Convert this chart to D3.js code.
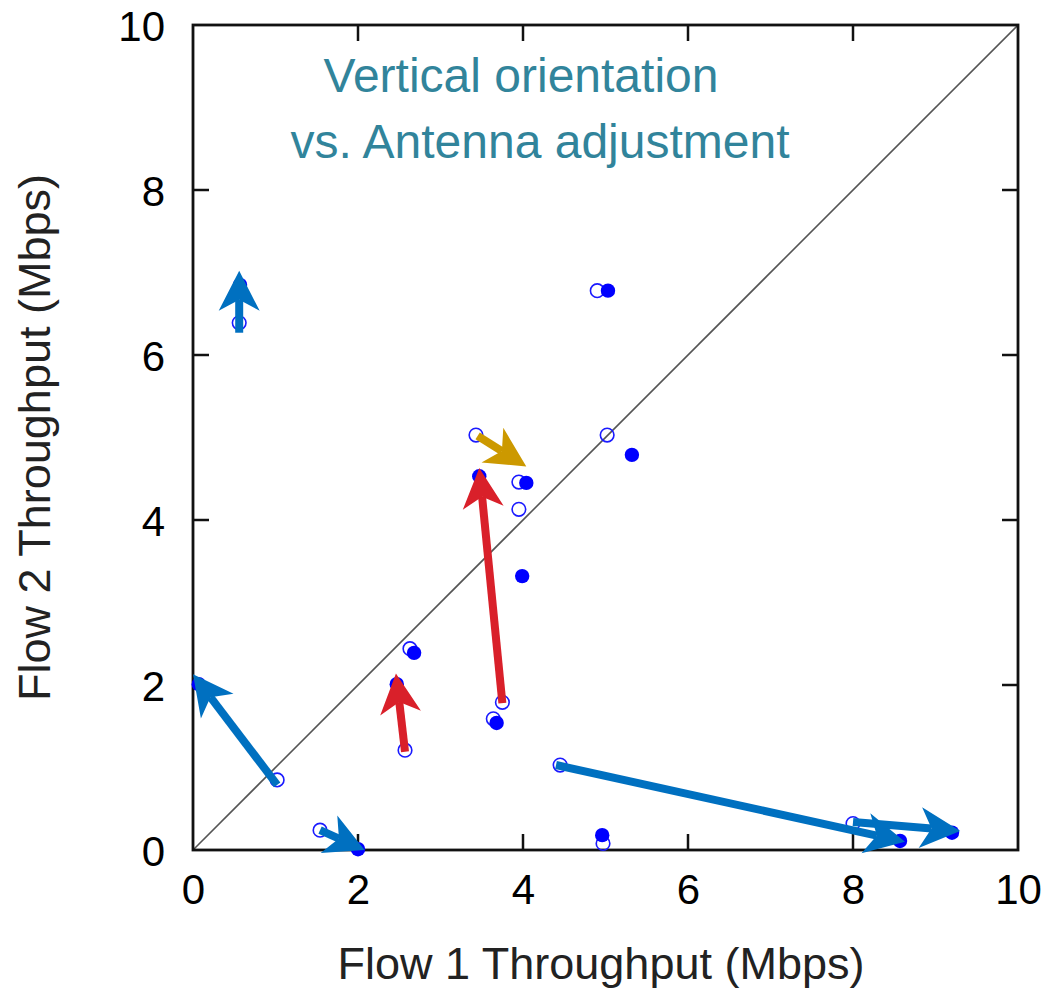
<!DOCTYPE html>
<html>
<head>
<meta charset="utf-8">
<script src="https://d3js.org/d3.v7.min.js"></script>
<style>
  body { margin: 0; background: #fff; }
  svg { display: block; font-family: "Liberation Sans", Arial, sans-serif; }
</style>
</head>
<body>
<svg id="chart" width="1050" height="989"></svg>
<script>
    var width = 1050, height = 989;
    var margin = { top: 25, right: 32, bottom: 139, left: 193 };

    const ticks = [0, 2, 4, 6, 8, 10];
    const titleLines = ["Vertical orientation", "vs. Antenna adjustment"];

    // before (hollow) and after (filled) measurements, [flow1, flow2]
    const openPoints = [
        [0.56, 6.39], [4.90, 6.78], [3.43, 5.03], [5.02, 5.03], [3.95, 4.46],
        [3.95, 4.13], [3.75, 1.79], [3.64, 1.59], [2.57, 1.21], [1.02, 0.85],
        [1.54, 0.24], [4.45, 1.03], [4.97, 0.08], [8.00, 0.32], [2.63, 2.44]
    ];
    const filledPoints = [
        [5.03, 6.78], [0.57, 6.85], [3.47, 4.53], [4.04, 4.45], [5.32, 4.79],
        [3.99, 3.32], [2.47, 2.01], [2.68, 2.39], [3.68, 1.54], [0.07, 2.01],
        [2.00, 0.01], [4.96, 0.18], [8.57, 0.11], [9.20, 0.21]
    ];

    // arrows: [fromX, fromY, toX, toY]
    const blueArrows = [
        [0.56, 6.27, 0.56, 7.02],
        [1.02, 0.79, 0.00, 2.13],
        [1.54, 0.24, 2.08, 0.00],
        [4.40, 1.03, 8.63, 0.10],
        [8.00, 0.34, 9.30, 0.23]
    ];
    const redArrows = [
        [3.75, 1.78, 3.47, 4.63],
        [2.57, 1.19, 2.46, 2.14]
    ];
    const goldArrows = [
        [3.45, 5.02, 4.04, 4.65]
    ];

    var x = d3.scaleLinear().domain([0, 10]).range([margin.left, width - margin.right]);
    var y = d3.scaleLinear().domain([0, 10]).range([height - margin.bottom, margin.top]);

    var svg = d3.select("#chart");

    // diagonal y = x
    svg.append("line")
        .attr("x1", x(0)).attr("y1", y(0))
        .attr("x2", x(10)).attr("y2", y(10))
        .attr("stroke", "#555").attr("stroke-width", 1.6);

    // axes with inward ticks
    var inner = ticks.filter(d => d > 0 && d < 10);
    var tickLen = 16;

    var gx = svg.append("g")
        .attr("transform", `translate(0,${y(0)})`)
        .call(d3.axisBottom(x).tickValues(ticks).tickSize(0).tickPadding(24).tickFormat(d3.format("d")));
    var gy = svg.append("g")
        .attr("transform", `translate(${x(0)},0)`)
        .call(d3.axisLeft(y).tickValues(ticks).tickSize(0).tickPadding(28).tickFormat(d3.format("d")));
    [gx, gy].forEach(g => {
        g.select(".domain").remove();
        g.selectAll("text").attr("font-size", 42).attr("fill", "#000")
            .attr("font-family", "'Liberation Sans', Arial, sans-serif");
    });
    gy.selectAll("text").attr("dy", "0.36em");

    var tk = svg.append("g").attr("stroke", "#111").attr("stroke-width", 2.5);
    inner.forEach(d => {
        tk.append("line").attr("x1", x(d)).attr("x2", x(d)).attr("y1", y(0)).attr("y2", y(0) - tickLen);
        tk.append("line").attr("x1", x(d)).attr("x2", x(d)).attr("y1", y(10)).attr("y2", y(10) + tickLen);
        tk.append("line").attr("y1", y(d)).attr("y2", y(d)).attr("x1", x(0)).attr("x2", x(0) + tickLen);
        tk.append("line").attr("y1", y(d)).attr("y2", y(d)).attr("x1", x(10)).attr("x2", x(10) - tickLen);
    });

    svg.append("rect")
        .attr("x", x(0)).attr("y", y(10))
        .attr("width", x(10) - x(0)).attr("height", y(0) - y(10))
        .attr("fill", "none").attr("stroke", "#111").attr("stroke-width", 2.8);

    // axis titles
    svg.append("text")
        .attr("x", 601).attr("y", 979)
        .attr("text-anchor", "middle").attr("font-size", 45).attr("fill", "#222")
        .text("Flow 1 Throughput (Mbps)");
    svg.append("text")
        .attr("transform", `translate(50,${(y(0) + y(10)) / 2}) rotate(-90)`)
        .attr("text-anchor", "middle").attr("font-size", 45).attr("fill", "#222")
        .text("Flow 2 Throughput (Mbps)");

    // points
    svg.append("g").selectAll("circle")
        .data(openPoints).join("circle")
        .attr("cx", d => x(d[0])).attr("cy", d => y(d[1])).attr("r", 6.8)
        .attr("fill", "none").attr("stroke", "#1a1aff").attr("stroke-width", 1.6);
    svg.append("g").selectAll("circle")
        .data(filledPoints).join("circle")
        .attr("cx", d => x(d[0])).attr("cy", d => y(d[1])).attr("r", 7.2)
        .attr("fill", "#0000ff");

    // arrows (stealth heads)
    function drawArrows(list, color) {
        var g = svg.append("g");
        list.forEach(a => {
            var x1 = x(a[0]), y1 = y(a[1]), x2 = x(a[2]), y2 = y(a[3]);
            var dx = x2 - x1, dy = y2 - y1, len = Math.hypot(dx, dy);
            var ux = dx / len, uy = dy / len, px = -uy, py = ux;
            var L = Math.min(40, len * 0.8), W = 20.5, N = L * 0.72;
            g.append("line")
                .attr("x1", x1).attr("y1", y1)
                .attr("x2", x2 - ux * N).attr("y2", y2 - uy * N)
                .attr("stroke", color).attr("stroke-width", 8);
            var pts = [
                [x2, y2],
                [x2 - ux * L + px * W, y2 - uy * L + py * W],
                [x2 - ux * N, y2 - uy * N],
                [x2 - ux * L - px * W, y2 - uy * L - py * W]
            ];
            g.append("path").attr("d", "M" + pts.join("L") + "Z").attr("fill", color);
        });
    }
    drawArrows(blueArrows, "#0070c0");
    drawArrows(redArrows, "#d9202a");
    drawArrows(goldArrows, "#cc9900");

    // title
    svg.append("text")
        .attr("font-size", 48).attr("fill", "#31849b").attr("text-anchor", "middle")
        .selectAll("tspan").data(titleLines).join("tspan")
        .attr("x", (d, i) => i === 0 ? 521 : 540)
        .attr("y", (d, i) => 92 + i * 66)
        .text(d => d);
</script>
</body>
</html>
